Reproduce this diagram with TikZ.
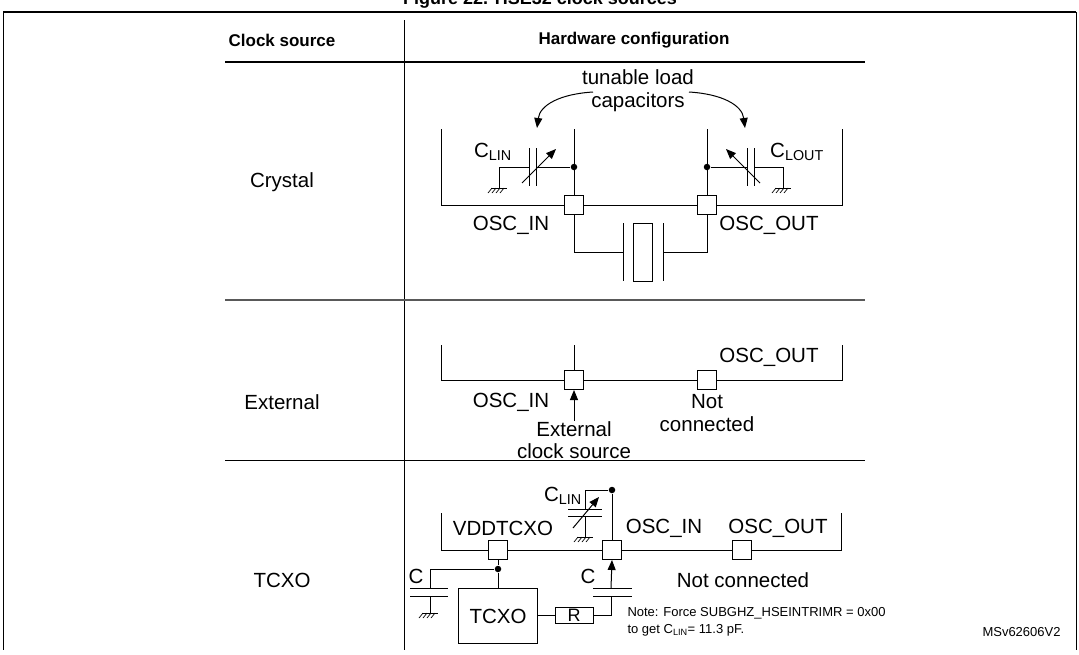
\documentclass[tikz,border=0pt]{standalone}
\usepackage{fontspec}
\setmainfont{Liberation Sans}
\usetikzlibrary{arrows.meta}
\begin{document}
\begin{tikzpicture}[x=1pt,y=-1pt,line width=1pt,
  t/.style={inner sep=0pt,font=\fontsize{20.5}{23}\selectfont},
  pad/.style={draw,fill=white,minimum size=19pt,inner sep=0pt},
  dot/.style={circle,fill,inner sep=0pt,minimum size=6.5pt},
  arr/.style={-{Triangle[length=10pt,width=8pt]}},
  gnd/.pic={\draw[line width=0.7pt] (-8,0)--(8,0); \foreach \i in {-7,-3,1,5}{\draw[line width=0.7pt] (\i,0)--(\i-4,5);}}]
\useasboundingbox (0,0) rectangle (1079,654);
\begin{scope}
\clip (0,0) rectangle (1079,654);
\node[font=\bfseries\fontsize{18}{21}\selectfont,anchor=base] (title) at (540,4) {Figure 22. HSE32 clock sources};
\end{scope}
\draw[line width=1.8pt] (3,12)--(1076,12);
\draw (3,12)--(3,650); \draw (1076,12)--(1076,650);
% table
\draw (404,20)--(404,650);
\draw[line width=1.8pt] (225,62)--(865,62);
\draw[line width=1.8pt,gray!70!black] (225,300)--(865,300);
\draw (225,460)--(865,460);
\node[t,font=\bfseries\fontsize{17}{20}\selectfont] (h1) at (282,40) {Clock source};
\node[t,font=\bfseries\fontsize{17}{20}\selectfont] (h2) at (634,40) {Hardware configuration};
\node[t] (r1) at (282,182) {Crystal};
\node[t] (r2) at (282,402) {External};
\node[t] (r3) at (282,580) {TCXO};
% ---- crystal
\draw (441,129)--(441,205)--(842,205)--(842,129);
\draw (574,129)--(574,252)--(623,252);
\draw (707,129)--(707,252)--(663,252);
\draw (623,223)--(623,281); \draw (663,223)--(663,281);
\draw[fill=white] (633,223) rectangle (652,281);
\node[pad] (pin1) at (574,205) {};
\node[pad] (pout1) at (707,205) {};
\node[dot] (d1) at (574,167) {}; \node[dot] (d2) at (707,167) {};
\draw (d1)--(536,167); \draw (536,148)--(536,186); \draw (529,148)--(529,186);
\draw (529,167)--(499,167)--(499,188); \pic at (499,188) {gnd};
\draw[arr] (522,183)--(556,149);
\draw (d2)--(747,167); \draw (747,148)--(747,186); \draw (754,148)--(754,186);
\draw (754,167)--(783,167)--(783,188); \pic at (783,188) {gnd};
\draw[arr] (760,183)--(726,149);
\node[t] (clin1) at (493,152) {C\textsubscript{LIN}};
\node[t] (clout) at (797,152) {C\textsubscript{LOUT}};
\node[t] (oi1) at (511,225) {OSC\_IN};
\node[t] (oo1) at (769,225) {OSC\_OUT};
\node[t,align=center] (tl) at (638,91) {tunable load\\capacitors};
\draw[arr] (593,92) .. controls (560,94) and (540,105) .. (537,128);
\draw[arr] (689,92) .. controls (722,94) and (742,105) .. (745,128);
% ---- external
\draw (441,345)--(441,380)--(842,380)--(842,345);
\draw (574,345)--(574,380);
\coordinate (ecs) at (574,421);
\node[pad] (pin2) at (574,380) {};
\node[pad] (pout2) at (707,380) {};
\draw[arr] (ecs)--(pin2.south);
\node[t] (oi2) at (511,402) {OSC\_IN};
\node[t] (oo2) at (769,357) {OSC\_OUT};
\node[t,align=center] (nc2) at (707,413) {Not\\connected};
\node[t,align=center,font=\fontsize{20.5}{21.5}\selectfont] (ext) at (574,440) {External\\clock source};
% ---- TCXO
\draw (441,513)--(441,550)--(841,550)--(841,513);
\node[dot] (d3) at (612,490) {};
\draw (d3)--(612,550);
\node[pad] (vdd) at (498,550) {};
\node[pad] (pin3) at (612,550) {};
\node[pad] (pout3) at (742,550) {};
\draw (d3)--(585,490)--(585,509);
\draw (568,509)--(602,509); \draw (568,516)--(602,516);
\draw (585,516)--(585,537); \pic at (585,537) {gnd};
\draw[arr] (573,528)--(599,497);
\node[t] (clin3) at (563,496) {C\textsubscript{LIN}};
\node[t] (vddl) at (503,528) {VDDTCXO};
\node[t] (oi3) at (664,528) {OSC\_IN};
\node[t] (oo3) at (778,528) {OSC\_OUT};
\node[draw,minimum width=79pt,minimum height=55pt,t,anchor=north west] (tcxo) at (458,588) {};
\node[t] at (tcxo.center) {TCXO};
\node[dot] (d4) at (498,569) {};
\draw (vdd)--(d4)--(498,588);
\draw (d4)--(430,569)--(430,588);
\draw (410,588)--(448,588); \draw (410,596)--(448,596);
\draw (430,596)--(430,613); \pic at (430,613) {gnd};
\node[t] (c1) at (416,576) {C};
\node[draw,inner sep=0pt,font=\fontsize{18}{20}\selectfont,minimum width=38pt,minimum height=16pt] (R) at (574,615) {R};
\draw (537,615)--(R.west);
\draw (R.east)--(611,615)--(611,596);
\draw (593,596)--(632,596); \draw (593,588)--(632,588);
\draw[arr] (611,588)--(pin3.south);
\node[t] (c2) at (588,576) {C};
\node[t] (nc3) at (743,580) {Not connected};
\node[inner sep=0pt,anchor=west,align=left,font=\fontsize{13}{17}\selectfont] (note) at (627,622) {Note: Force SUBGHZ\_HSEINTRIMR = 0x00\\to get C\textsubscript{LIN}= 11.3 pF.};
\node[inner sep=0pt,anchor=west,font=\fontsize{13}{15}\selectfont] (ms) at (982,632) {MSv62606V2};
\end{tikzpicture}
\end{document}
